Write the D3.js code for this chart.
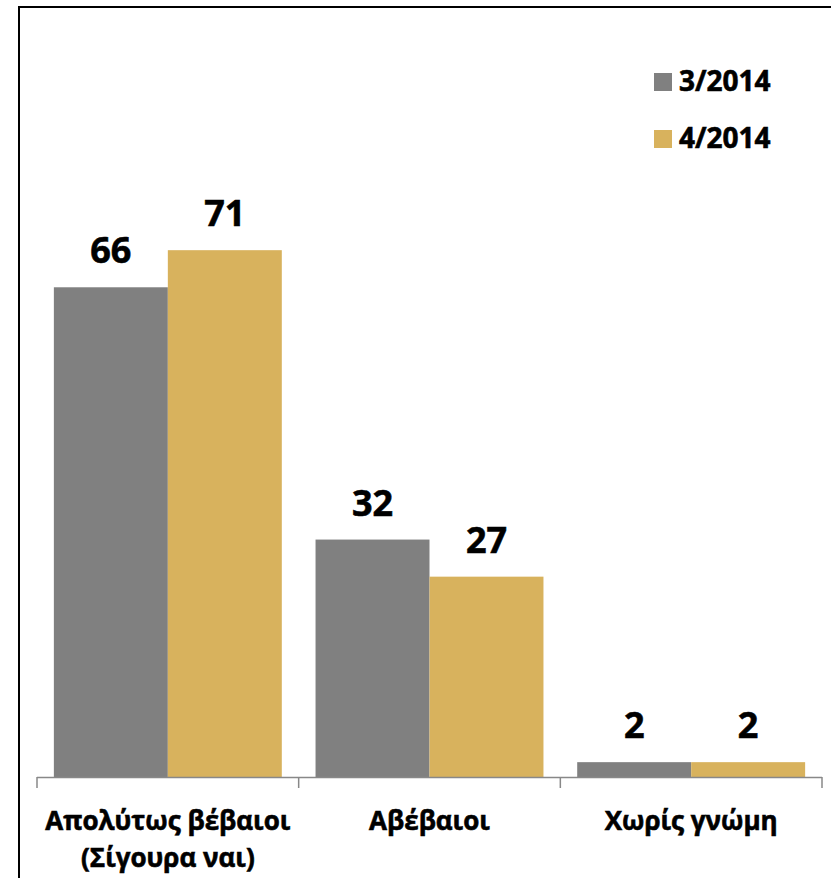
<!DOCTYPE html>
<html><head><meta charset="utf-8">
<script src="https://cdn.jsdelivr.net/npm/d3@7"></script>
<style>body{margin:0;background:#fff}svg{display:block}text{font-family:"Open Sans",sans-serif;font-weight:bold;fill:#000;stroke:#000;stroke-width:0.6px}</style>
</head><body>
<script>
const categories = [["Απολύτως βέβαιοι","(Σίγουρα ναι)"],["Αβέβαιοι"],["Χωρίς γνώμη"]];
const seriesNames = ["3/2014","4/2014"];
const series1 = [66,32,2];
const series2 = [71,27,2];
const colors = ["#808080","#D8B25D"];

const W=831,H=878;
const svg=d3.select("body").append("svg").attr("width",W).attr("height",H);
svg.append("rect").attr("x",19).attr("y",7).attr("width",W+20).attr("height",H+20)
  .attr("fill","none").attr("stroke","#000").attr("stroke-width",2);

const x=d3.scaleBand().domain(d3.range(categories.length)).range([37,822]).paddingInner(0).paddingOuter(0);
const inner=d3.scaleBand().domain([0,1]).range([0,x.bandwidth()]).paddingOuter(0.148).paddingInner(0);
const y=d3.scaleLinear().domain([0,100]).range([777,35]);

const data=[series1,series2];
data.forEach((s,si)=>{
  svg.selectAll(".b"+si).data(s).enter().append("rect")
    .attr("x",(d,i)=>x(i)+inner(si)).attr("width",inner.bandwidth())
    .attr("y",d=>y(d)).attr("height",d=>y(0)-y(d)).attr("fill",colors[si]);
  svg.selectAll(".l"+si).data(s).enter().append("text")
    .attr("x",(d,i)=>x(i)+inner(si)+inner.bandwidth()/2).attr("y",d=>y(d)-24)
    .attr("text-anchor","middle").style("font-size","36px").text(d=>d);
});

// axis
const axisG=svg.append("g");
axisG.append("line").attr("x1",37).attr("x2",822).attr("y1",777.5).attr("y2",777.5).attr("stroke","#888").attr("stroke-width",1.5);
const ticks=d3.range(categories.length+1).map(i=>i<categories.length?x(i):x(i-1)+x.bandwidth());
axisG.selectAll(".tk").data(ticks).enter().append("line")
  .attr("x1",d=>d).attr("x2",d=>d).attr("y1",777).attr("y2",788).attr("stroke","#888").attr("stroke-width",1.5);
categories.forEach((lines,i)=>{
  const t=svg.append("text").attr("text-anchor","middle").style("font-size","26px");
  lines.forEach((ln,j)=>t.append("tspan").attr("x",x(i)+x.bandwidth()/2).attr("y",830+j*37).text(ln));
});

// legend
seriesNames.forEach((n,i)=>{
  svg.append("rect").attr("x",654).attr("y",73+i*57).attr("width",18).attr("height",18).attr("fill",colors[i]);
  svg.append("text").attr("x",679).attr("y",91+i*57).style("font-size","28px").text(n);
});
</script>
</body></html>
